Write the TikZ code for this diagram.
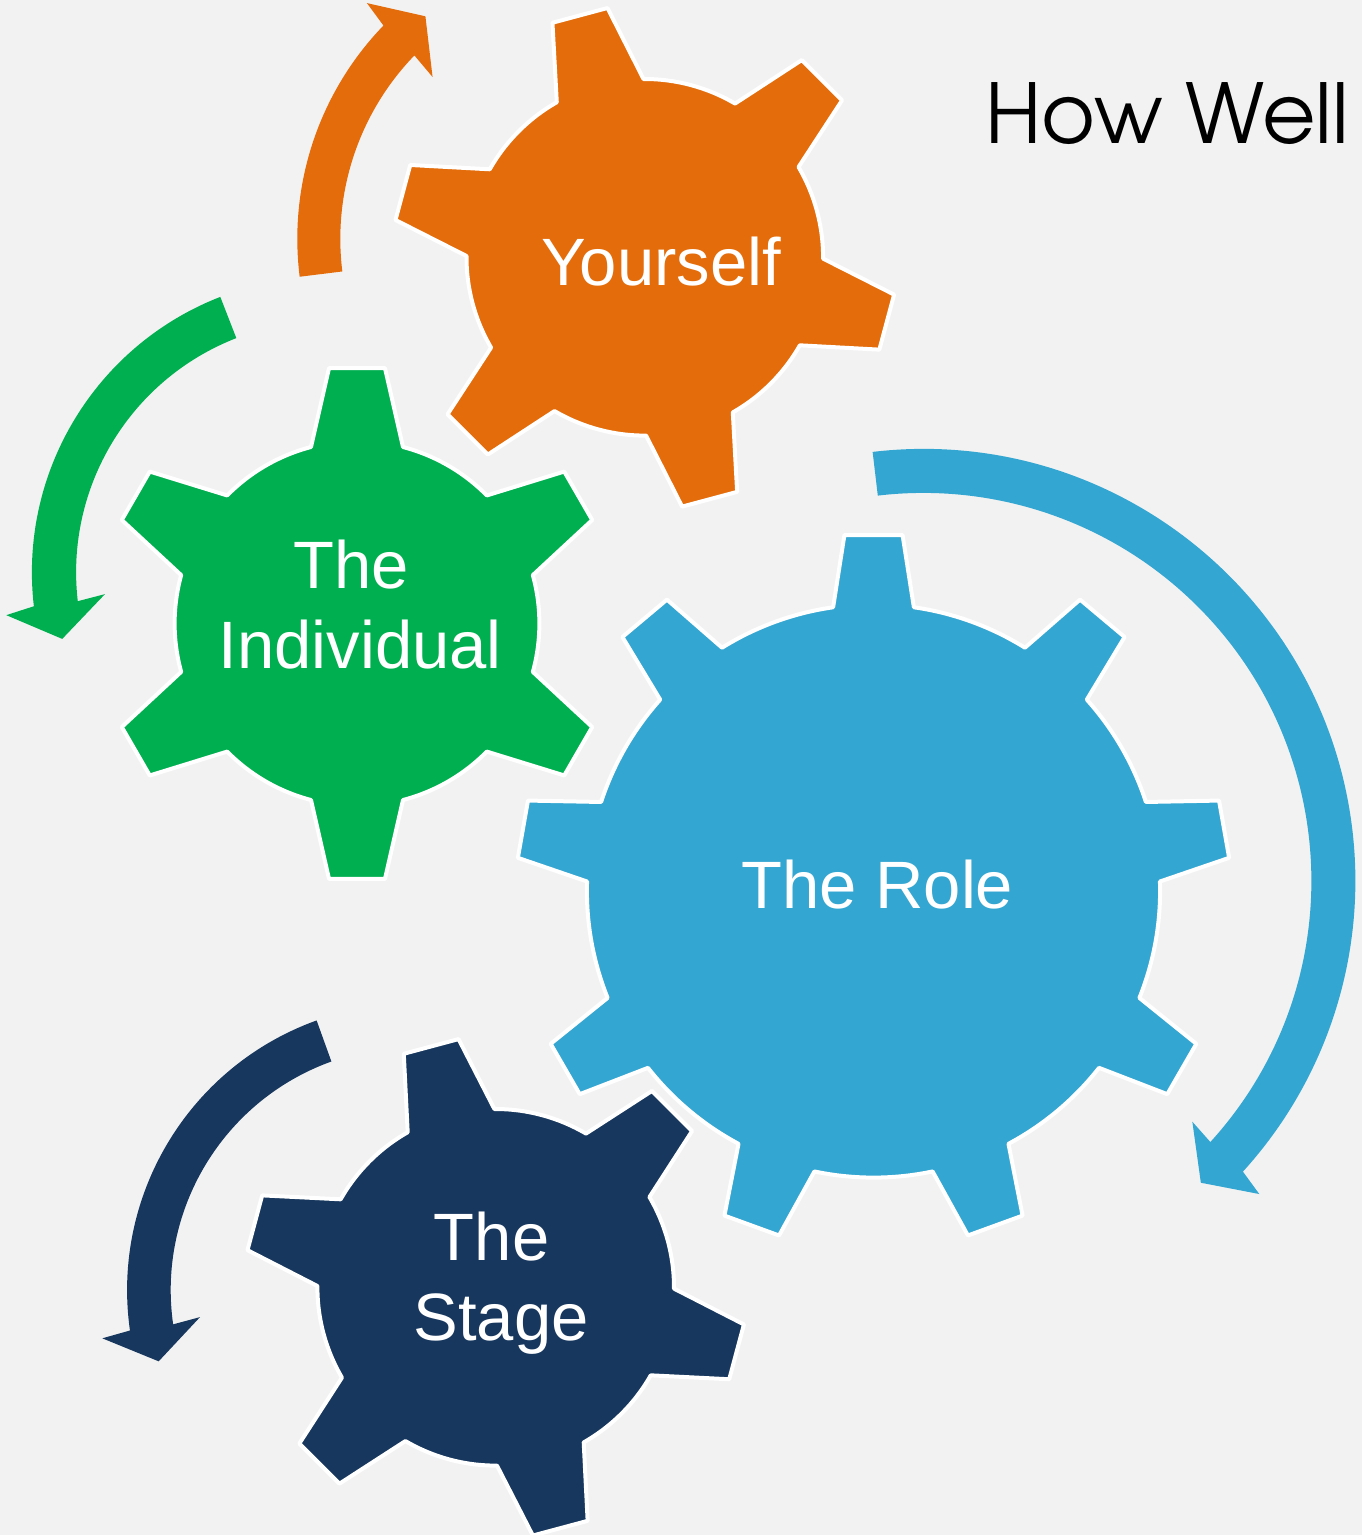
\documentclass[tikz,border=0pt]{standalone}
\usepackage{fontspec}
\setmainfont{Liberation Sans}
\newfontfamily\gothicfont{TeX Gyre Adventor}
\definecolor{bgc}{HTML}{F2F2F2}
\definecolor{gorange}{HTML}{E46C0A}
\definecolor{ggreen}{HTML}{00B050}
\definecolor{gblue}{HTML}{33A6D2}
\definecolor{gnavy}{HTML}{17375E}
% #1 centre, #2 colour, #3 teeth, #4 first tooth angle, #5 root radius,
% #6 root half angle, #7 tip radius, #8 tip half angle
\newcommand\drawgear[8]{%
  \begin{scope}[shift={#1}, yscale=-1]
    \path[gearbody, fill=#2] ({#4-#6}:#5)
      \foreach \k in {1,...,#3} {
        -- ({#4+\k*360/#3-360/#3-#8}:#7)
        -- ({#4+\k*360/#3-360/#3+#8}:#7)
        -- ({#4+\k*360/#3-360/#3+#6}:#5)
        arc[start angle={#4+\k*360/#3-360/#3+#6}, end angle={#4+\k*360/#3-#6}, radius=#5]
      } -- cycle;
  \end{scope}}
% #1 centre, #2 colour, #3 tail angle, #4 head angle, #5 outer radius,
% #6 inner radius, #7 outer barb, #8 tip, #9 inner barb
\newcommand\drawcurvedarrow[9]{%
  \begin{scope}[shift={#1}, yscale=-1]
    \fill[#2] (#3:#5) arc[start angle=#3, end angle=#4, radius=#5]
      -- #7 -- #8 -- #9 -- (#4:#6)
      arc[start angle=#4, end angle=#3, radius=#6] -- cycle;
  \end{scope}}
\tikzset{
  gearbody/.style={draw=white, line width=4pt, line join=round},
  gtext/.style={text=white, inner sep=0pt, font=\fontsize{67}{80.5}\selectfont},
}
\begin{document}
\begin{tikzpicture}[x=1pt, y=-1pt]
\fill[bgc] (0,0) rectangle (1362,1535);
\useasboundingbox (0,0) rectangle (1362,1535);

% gears
\drawgear{(644.8,257.3)}{gorange}{6}{105}{178.3}{14.58}{252.1}{6.49}
\drawgear{(357,623.5)}{ggreen}{6}{90}{182.4}{14.61}{257.0}{6.25}
\drawgear{(873.5,891)}{gblue}{9}{90}{286.6}{8.10}{357.2}{4.67}
\drawgear{(495.7,1287.3)}{gnavy}{6}{105}{178.3}{14.58}{251.0}{6.49}

% curved arrows
\drawcurvedarrow{(604.3,238.8)}{gorange}{187.1}{136}{307}{264}
  {(135.2:334.5)}{(128.8:285.5)}{(136.7:236)}
\drawcurvedarrow{(327.4,572.3)}{ggreen}{111.25}{186.6}{295.5}{251.3}
  {(187.6:324)}{(194.1:273.4)}{(185.6:223.5)}
\drawcurvedarrow{(923.4,880.9)}{gblue}{96.75}{-42.3}{432}{388}
  {(-42.99:459.2)}{(-47.41:410)}{(-41.84:361)}
\drawcurvedarrow{(413.7,1290.1)}{gnavy}{109.8}{188.1}{286.6}{243}
  {(188.8:315.1)}{(195.6:264.8)}{(187.2:215.4)}

% labels
\node[gtext, anchor=base] (yourself) at (661,285) {Yourself};
\node[gtext, anchor=base] (individual) at (360.2,588.4)
  {\begin{tabular}[t]{@{}c@{}}The\hphantom{\ }\\Individual\end{tabular}};
\node[gtext, anchor=base] (role) at (877.4,908.4) {The Role};
\node[gtext, anchor=base] (stage) at (501,1260.4)
  {\begin{tabular}[t]{@{}c@{}}The\hphantom{\ }\\Stage\end{tabular}};
\node[anchor=base west, inner sep=0pt, font=\gothicfont\fontsize{82.5}{90}\selectfont] (howwell) at (985,143.3) {How Well};
\end{tikzpicture}
\end{document}
